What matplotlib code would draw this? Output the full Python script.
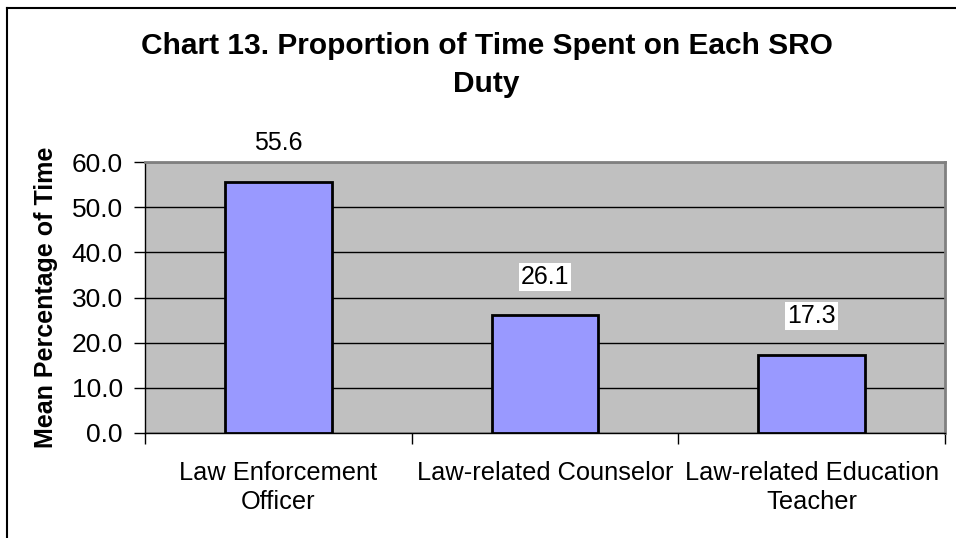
import matplotlib.pyplot as plt
from matplotlib.lines import Line2D

# Dados
categorias = ["Law Enforcement\nOfficer", "Law-related Counselor", "Law-related Education\nTeacher"]
valores = [55.6, 26.1, 17.3]
y_ticks = [0, 10, 20, 30, 40, 50, 60]

plt.rcParams["font.family"] = ["Liberation Sans", "DejaVu Sans"]

fig = plt.figure(figsize=(9.56, 5.38), dpi=100)
ax = fig.add_axes([145 / 956, 105 / 538, 800 / 956, 271 / 538])
ax.set_facecolor("#C0C0C0")

x = list(range(len(categorias)))
ax.bar(x, valores, width=0.4, color="#9999FF", edgecolor="black", linewidth=2, zorder=3)

ax.set_xlim(-0.5, len(categorias) - 0.5)
ax.set_ylim(0, 60)
ax.set_yticks(y_ticks)
ax.set_yticklabels([f"{v:.1f}" for v in y_ticks], fontsize=19)
ax.yaxis.grid(True, color="black", linewidth=1, zorder=1)
ax.set_axisbelow(True)

# ticks no eixo x nas divisões entre categorias
ax.set_xticks([-0.5, 0.5, 1.5, 2.5])
ax.set_xticklabels([])
ax.set_xticks(x, minor=True)
ax.set_xticklabels(categorias, minor=True, fontsize=18.3, linespacing=1.3)
ax.tick_params(axis="x", which="minor", length=0, pad=20)
ax.tick_params(axis="x", which="major", direction="out", length=8, width=1)
ax.tick_params(axis="y", direction="out", length=8, width=1, pad=8)

for lado in ["top", "right"]:
    ax.spines[lado].set_color("#808080")
    ax.spines[lado].set_linewidth(2)
for lado in ["left", "bottom"]:
    ax.spines[lado].set_color("black")
    ax.spines[lado].set_linewidth(1)

ax.set_ylabel("Mean Percentage of Time", fontsize=18, fontweight="bold", labelpad=10)

for xi, v in zip(x, valores):
    ax.annotate(f"{v:.1f}", (xi, v), xytext=(0, 19), textcoords="offset points",
                ha="center", va="bottom", fontsize=18,
                bbox=dict(facecolor="white", edgecolor="none", pad=1.5), zorder=5,
                annotation_clip=False)

fig.suptitle("Chart 13. Proportion of Time Spent on Each SRO\nDuty",
             x=0.509, y=0.94, fontsize=21.5, fontweight="bold", linespacing=1.45)

# moldura da área do gráfico (esquerda e topo)
fig.add_artist(Line2D([7 / 956, 7 / 956], [0, 530 / 538], color="black", linewidth=1.5))
fig.add_artist(Line2D([7 / 956, 1], [530 / 538, 530 / 538], color="black", linewidth=1.5))

fig.savefig("out.png", dpi=100)
